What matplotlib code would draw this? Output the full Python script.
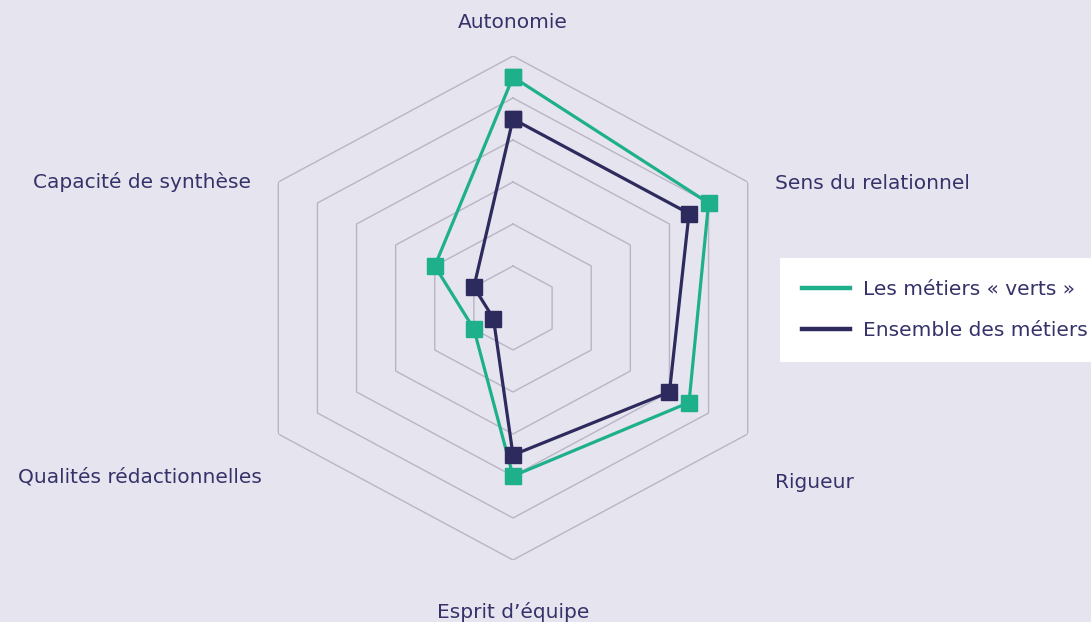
import matplotlib
matplotlib.use("Agg")
import matplotlib.pyplot as plt
import numpy as np
from matplotlib.lines import Line2D

categories = ["Autonomie", "Sens du relationnel", "Rigueur", "Esprit d’équipe",
              "Qualités rédactionnelles", "Capacité de synthèse"]
verts = [55, 50, 45, 40, 10, 20]
ensemble = [45, 45, 40, 35, 5, 10]
rings = [10, 20, 30, 40, 50, 60]

bg = "#E6E4EE"
green = "#1DB08B"
navy = "#2D2A5E"
textc = "#35326A"
gridc = "#B9B5C6"

plt.rcParams['font.family'] = ['DejaVu Sans']

W, H = 1091, 622
fig = plt.figure(figsize=(W / 100, H / 100), dpi=100, facecolor=bg)

# the reference is slightly stretched horizontally
cx, cy, Ry = 513, 308, 252
Rx = 271
ax = fig.add_axes([(cx - Rx) / W, (H - cy - Ry) / H, 2 * Rx / W, 2 * Ry / H],
                  projection="polar", facecolor=bg)
ax.set_aspect("auto")
ax.set_theta_offset(np.pi / 2)
ax.set_theta_direction(-1)
ax.set_ylim(0, 60)
ax.axis("off")

angles = np.arange(len(categories)) * 2 * np.pi / len(categories)
closed = np.append(angles, angles[0])

for r in rings:
    ax.plot(closed, [r] * len(closed), color=gridc, lw=1.0, zorder=1)

def close(v):
    return list(v) + [v[0]]

ax.plot(closed, close(verts), color=green, lw=2.3, marker="s", ms=11,
        zorder=3, clip_on=False)
ax.plot(closed, close(ensemble), color=navy, lw=2.3, marker="s", ms=11,
        zorder=4, clip_on=False)

# axis labels (pixel positions from the reference)
labpos = [(513, 22, "center"), (775, 184, "left"), (775, 482, "left"),
          (513, 612, "center"), (262, 477, "right"), (251, 182, "right")]
for (x, y, ha), name in zip(labpos, categories):
    fig.text(x / W, 1 - y / H, name, ha=ha, va="center", fontsize=14.5, color=textc)

handles = [Line2D([], [], color=green, lw=3.2), Line2D([], [], color=navy, lw=3.2)]
leg = fig.legend(handles, ["Les métiers « verts »", "Ensemble des métiers"],
                 loc="upper left", bbox_to_anchor=(780 / W, 1 - 258 / H),
                 frameon=True, fancybox=False, fontsize=14.5, handlelength=2.4,
                 handletextpad=0.6, labelspacing=1.1, borderpad=1.1,
                 borderaxespad=0)
leg.get_frame().set_facecolor("white")
leg.get_frame().set_edgecolor("none")
leg.get_frame().set_alpha(1)
for t in leg.get_texts():
    t.set_color(textc)

fig.savefig("out.png", dpi=100, facecolor=bg)
